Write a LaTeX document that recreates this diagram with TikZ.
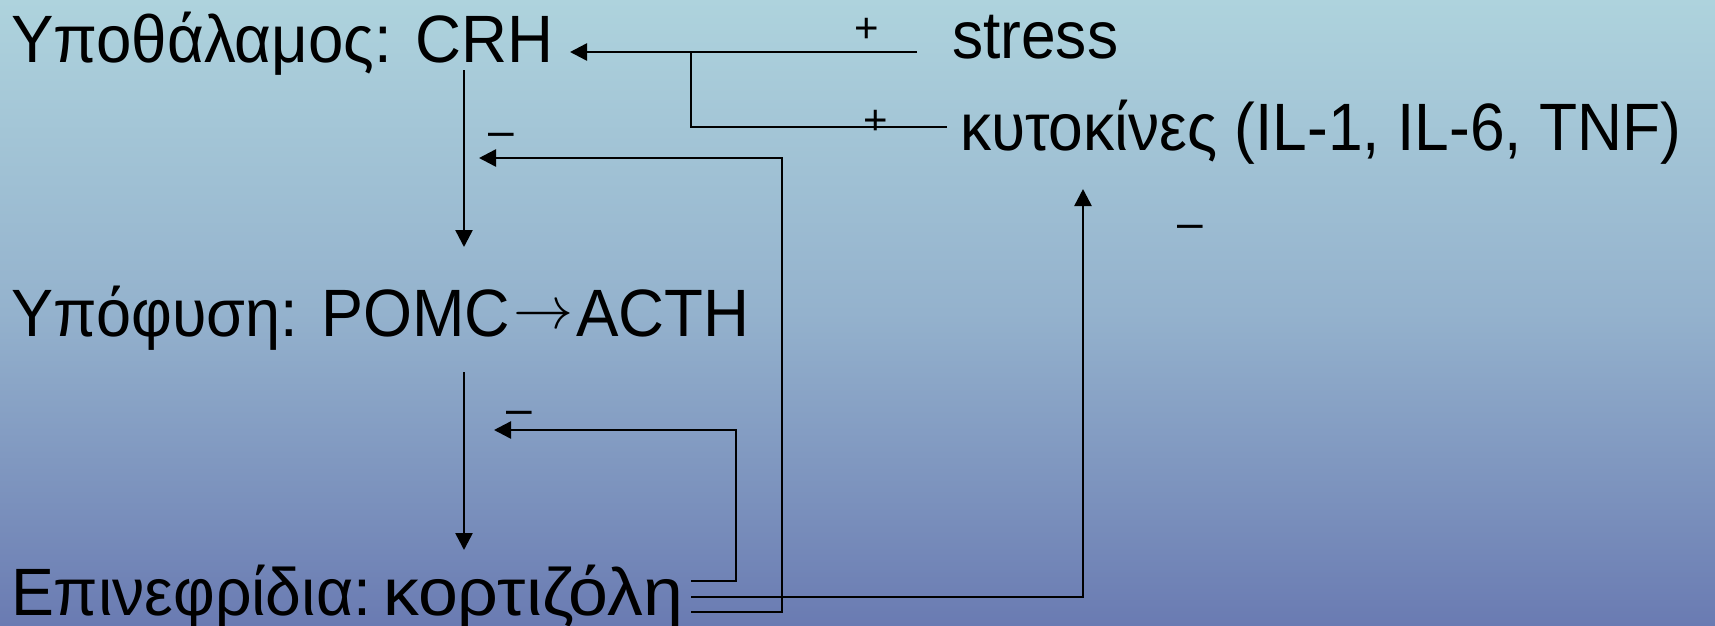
\documentclass[tikz,border=0pt]{standalone}
\usepackage{fontspec}
\setmainfont{Liberation Sans}
\usetikzlibrary{arrows.meta}
\definecolor{bgtop}{RGB}{174,211,221}
\definecolor{bgmid}{RGB}{148,178,205}
\definecolor{bgbot}{RGB}{106,123,178}
\tikzset{
  lbl/.style={anchor=base west, inner sep=0pt, outer sep=0pt,
    font=\fontsize{67}{80}\selectfont},
  sign/.style={inner sep=0pt, outer sep=0pt, font=\fontsize{42}{50}\selectfont},
  msign/.style={inner sep=0pt, outer sep=0pt, font=\fontsize{46}{54}\selectfont},
  conn/.style={line width=2.5pt, line join=miter},
  arr/.style={conn, -{Triangle[length=17pt,width=17pt]}}
}
\newcommand{\sx}[2]{\scalebox{#1}[1]{#2}}
\newcommand{\longarr}{\raisebox{8pt}{\resizebox{60pt}{!}{\fontsize{10}{12}\selectfont$\rightarrow$}}}
\begin{document}
\begin{tikzpicture}[x=1pt,y=-1pt]
\useasboundingbox (0,0) rectangle (1715,625);
\shade[top color=bgtop, bottom color=bgbot, middle color=bgmid] (0,0) rectangle (1715,625);

% text nodes
\node[lbl] (hyp) at (11,62) {\sx{0.95}{Υποθάλαμος: CRH}};
\node[lbl] (pit) at (11,336) {\sx{0.94}{Υπόφυση: POMC}\hspace{3pt}\longarr\hspace{3pt}\sx{0.95}{ACTH}};
\node[lbl] (adr) at (11,615) {\sx{0.96}{Επινεφρίδια:}\hspace{12pt}\sx{1.07}{κορτιζόλη}};
\node[lbl] (str) at (952,58) {\sx{0.93}{stress}};
\node[lbl] (cyt) at (960,150) {\sx{0.93}{κυτοκίνες (IL-1, IL-6, TNF)}};

% signs
\node[sign] (p1) at (867,30) {+};
\node[sign] (p2) at (876,122) {+};
\node[msign] (m1) at (501,140) {–};
\node[msign] (m2) at (519,418) {–};
\node[msign] (m3) at (1190,232) {–};

% coordinates
\coordinate (sA) at (917,52);
\coordinate (crhIn) at (570,52);
\coordinate (cA) at (947,127);
\coordinate (cB) at (691,127);
\coordinate (cC) at (691,52);
\coordinate (d1s) at (464,70);
\coordinate (d1e) at (464,247);
\coordinate (d2s) at (464,372);
\coordinate (d2e) at (464,550);
\coordinate (f1s) at (691,581);
\coordinate (f1a) at (736,581);
\coordinate (f1b) at (736,430);
\coordinate (f1e) at (494,430);
\coordinate (f2s) at (691,597);
\coordinate (f2a) at (1083,597);
\coordinate (f2e) at (1083,189);
\coordinate (f3s) at (691,612);
\coordinate (f3a) at (782,612);
\coordinate (f3b) at (782,158);
\coordinate (f3e) at (479,158);

\draw[arr] (sA) -- (crhIn);
\draw[conn] (cA) -- (cB) -- (cC);
\draw[arr] (d1s) -- (d1e);
\draw[arr] (d2s) -- (d2e);
\draw[arr] (f1s) -- (f1a) -- (f1b) -- (f1e);
\draw[arr] (f2s) -- (f2a) -- (f2e);
\draw[arr] (f3s) -- (f3a) -- (f3b) -- (f3e);
\end{tikzpicture}
\end{document}
